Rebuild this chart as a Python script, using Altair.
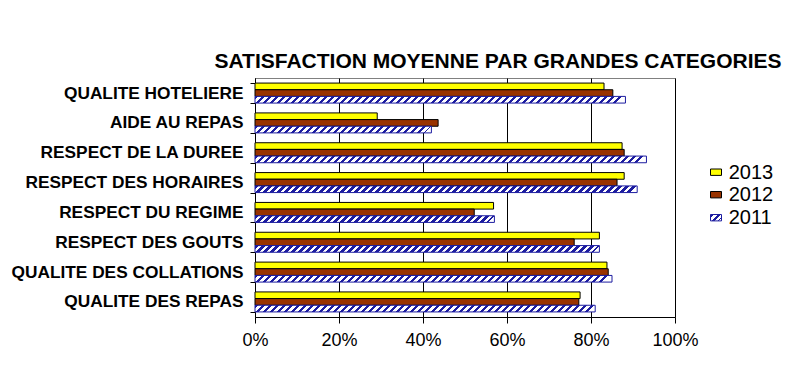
import altair as alt
import pandas as pd

# ---- data ----
categories = [
    "QUALITE HOTELIERE",
    "AIDE AU REPAS",
    "RESPECT DE LA DUREE",
    "RESPECT DES HORAIRES",
    "RESPECT DU REGIME",
    "RESPECT DES GOUTS",
    "QUALITE DES COLLATIONS",
    "QUALITE DES REPAS",
]
years = ["2013", "2012", "2011"]
v2013 = [83.1, 29.1, 87.4, 87.9, 56.8, 82.0, 83.8, 77.4]
v2012 = [85.2, 43.6, 87.9, 86.2, 52.2, 76.0, 84.1, 77.1]
v2011 = [88.2, 42.0, 93.2, 91.0, 57.0, 82.0, 85.0, 81.0]
x_ticks = [0, 20, 40, 60, 80, 100]
title_text = "SATISFACTION MOYENNE PAR GRANDES CATEGORIES"

# ---- layout / style ----
W, H = 420, 239
FONT = "Arial, Liberation Sans"
YELLOW = "#FFFF00"
BROWN = "#993300"
NAVY = "#1c1ca0"

rows = []
for c, a, b, d in zip(categories, v2013, v2012, v2011):
    rows.append({"cat": c, "year": "2013", "value": a})
    rows.append({"cat": c, "year": "2012", "value": b})
    rows.append({"cat": c, "year": "2011", "value": d})
df = pd.DataFrame(rows)

PAD_INNER, PAD_OUTER = 0.33, 0.17
step = H / (len(categories) - PAD_INNER + 2 * PAD_OUTER)
bar_h = step * (1 - PAD_INNER) / 3

xenc = alt.X("value:Q", scale=alt.Scale(domain=[0, 100], nice=False),
             axis=alt.Axis(values=x_ticks, labelExpr="datum.value + '%'", title=None,
                           grid=True, gridColor="black", gridOpacity=1, gridWidth=1,
                           domainColor="black", tickColor="black", tickSize=6,
                           labelFontSize=18, labelFont=FONT, labelColor="black",
                           labelPadding=8, labelFlush=False, labelOverlap=False))
yenc = alt.Y("cat:N", sort=categories,
             scale=alt.Scale(paddingInner=PAD_INNER, paddingOuter=PAD_OUTER),
             axis=alt.Axis(title=None, tickBand="extent", grid=False,
                           domainColor="black", tickColor="black", tickSize=5,
                           labelFontSize=17.3, labelFont=FONT, labelFontWeight="bold",
                           labelColor="black", labelPadding=7, labelLimit=400))
yoff = alt.YOffset("year:N", sort=years, scale=alt.Scale(domain=years, paddingInner=0, paddingOuter=0))


def hatch(w, h, period=7.0):
    r = h / w
    span = w * (1 + r * r)
    pt = period / span
    stops = []
    k = 0
    while k * pt < 1:
        o0 = k * pt
        o1 = min(o0 + pt / 2, 1)
        o2 = min(o0 + pt, 1)
        stops += [alt.GradientStop(offset=round(o0, 5), color=NAVY),
                  alt.GradientStop(offset=round(o1, 5), color=NAVY),
                  alt.GradientStop(offset=round(o1, 5), color="white"),
                  alt.GradientStop(offset=round(o2, 5), color="white")]
        k += 1
    return alt.LinearGradient(gradient="linear", stops=stops, x1=0, y1=0, x2=1, y2=r)


base = alt.Chart(df)
layers = []
for yr, col in [("2013", YELLOW), ("2012", BROWN)]:
    layers.append(
        base.transform_filter(alt.datum.year == yr)
        .mark_bar(fill=col, stroke="black", strokeWidth=1)
        .encode(x=xenc, y=yenc, yOffset=yoff)
    )
for c, v in zip(categories, v2011):
    w = v / 100 * W
    layers.append(
        base.transform_filter((alt.datum.year == "2011") & (alt.datum.cat == c))
        .mark_bar(fill=hatch(w, bar_h), stroke=NAVY, strokeWidth=1)
        .encode(x=xenc, y=yenc, yOffset=yoff)
    )

# ---- custom legend (outside the plot, to the right) ----
leg_df = pd.DataFrame({"year": years})
leg_x0, leg_x1 = 455.5, 466.5
leg_y = {"2013": 94.2, "2012": 116.7, "2011": 139.7}
leg_fill = {"2013": YELLOW, "2012": BROWN,
            "2011": hatch(leg_x1 - leg_x0, 6.4, period=7.0)}
leg_stroke = {"2013": "black", "2012": "black", "2011": NAVY}
for yr in years:
    cy = leg_y[yr]
    layers.append(
        alt.Chart(leg_df).transform_filter(alt.datum.year == yr)
        .mark_rect(fill=leg_fill[yr], stroke=leg_stroke[yr], strokeWidth=1)
        .encode(x=alt.value(leg_x0), x2=alt.value(leg_x1),
                y=alt.value(cy - 3.2), y2=alt.value(cy + 3.2))
    )
    layers.append(
        alt.Chart(leg_df).transform_filter(alt.datum.year == yr)
        .mark_text(align="left", baseline="middle", fontSize=20, font=FONT, color="black")
        .encode(x=alt.value(473.7), y=alt.value(cy + 0.5), text="year:N")
    )

chart = (
    alt.layer(*layers)
    .properties(
        width=W, height=H,
        autosize=alt.AutoSizeParams(type="none"),
        padding={"left": 247, "top": 70, "right": 110, "bottom": 50},
        background="white",
        title=alt.TitleParams(title_text, font=FONT, fontSize=21, fontWeight="bold",
                              color="black", anchor="middle", dx=33, offset=-20,
                              baseline="alphabetic"),
    )
    .configure_view(stroke="#808080", strokeWidth=1)
)

chart.save("out.html", embed_options={"renderer": "svg", "actions": False})
